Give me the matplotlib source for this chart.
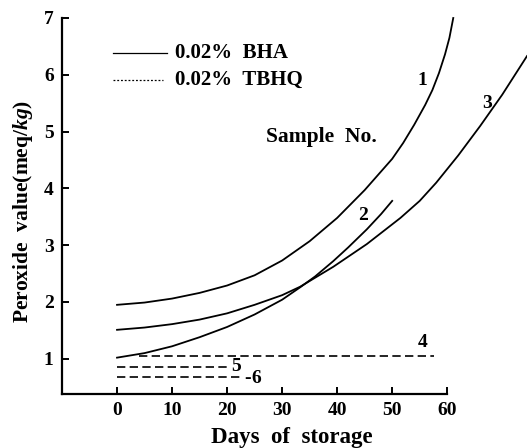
import matplotlib
matplotlib.use("Agg")
import matplotlib.pyplot as plt

plt.rcParams['font.family'] = ['Liberation Serif', 'DejaVu Serif']
plt.rcParams['font.weight'] = 'bold'
plt.rcParams['mathtext.fontset'] = 'custom'
plt.rcParams['mathtext.rm'] = 'Liberation Serif:bold'
plt.rcParams['mathtext.it'] = 'Liberation Serif:italic:bold'
plt.rcParams['mathtext.bf'] = 'Liberation Serif:bold'

# ---- data ----
days_s1 = [0, 5, 10, 15, 20, 25, 30, 35, 40, 45, 50, 52, 54, 56, 57.3, 58.5, 59.6, 60.4, 61.1]
pv_s1 = [1.95, 1.99, 2.06, 2.16, 2.29, 2.47, 2.73, 3.07, 3.48, 3.97, 4.52, 4.80, 5.12,
         5.47, 5.73, 6.03, 6.36, 6.65, 7.0]

days_s2 = [0, 5, 10, 15, 20, 25, 30, 33.3, 36, 39.3, 42, 45.4, 48, 50]
pv_s2 = [1.02, 1.10, 1.22, 1.38, 1.56, 1.78, 2.04, 2.26, 2.45, 2.72, 2.96, 3.28, 3.55, 3.78]

days_s3 = [0, 5, 10, 15, 20, 25, 30, 33.3, 39.3, 45.4, 51.5, 55, 58, 62, 66, 70, 74.5]
pv_s3 = [1.51, 1.55, 1.61, 1.69, 1.80, 1.95, 2.12, 2.27, 2.62, 3.02, 3.48, 3.78, 4.10,
         4.58, 5.10, 5.65, 6.33]

days_s4 = [4, 57.6]
pv_s4 = [1.05, 1.05]
days_s5 = [0, 20]
pv_s5 = [0.85, 0.85]
days_s6 = [0, 22.5]
pv_s6 = [0.68, 0.68]

sample_labels = ["1", "2", "3", "4", "5", "6"]
label_days = [55.5, 44.7, 67.3, 55.5, 21.7, 25.3]
label_pv = [5.9, 3.53, 5.5, 1.28, 0.86, 0.66]

x_ticks = [0, 10, 20, 30, 40, 50, 60]
y_ticks = [1, 2, 3, 4, 5, 6, 7]
legend_labels = ["0.02%  BHA", "0.02%  TBHQ"]

# ---- figure ----
W, H = 527, 448
fig = plt.figure(figsize=(W / 100, H / 100), dpi=100)
ax = fig.add_axes([62 / W, (H - 394) / H, (W - 62) / W, (394 - 18) / H])
ax.set_xlim(-10, 74.5)
ax.set_ylim(0.38, 7.0)

lw = 1.3
for d, v in [(days_s1, pv_s1), (days_s2, pv_s2), (days_s3, pv_s3)]:
    ax.plot(d, v, color='black', lw=lw, solid_joinstyle='round', clip_on=False)
for d, v in [(days_s4, pv_s4), (days_s5, pv_s5), (days_s6, pv_s6)]:
    ax.plot(d, v, color='black', lw=1.2, dashes=(5.0, 2.6), clip_on=False)

for lab, dx, vy in zip(sample_labels, label_days, label_pv):
    ax.text(dx, vy, lab, fontsize=14, fontweight='bold', ha='center', va='center')
ax.text(24.3, 0.66, "-", fontsize=14, fontweight='bold', ha='right', va='center')

# legend (manual)
ax.plot([0.110, 0.226], [0.907, 0.907], transform=ax.transAxes, color='black', lw=0.9)
ax.plot([0.110, 0.218], [0.835, 0.835], transform=ax.transAxes, color='black', lw=0.9,
        dashes=(1.5, 1.5))
ax.text(0.243, 0.907, legend_labels[0], transform=ax.transAxes, fontsize=15,
        fontweight='bold', va='center', ha='left')
ax.text(0.243, 0.835, legend_labels[1], transform=ax.transAxes, fontsize=15,
        fontweight='bold', va='center', ha='left')
ax.text(0.557, 0.683, "Sample  No.", transform=ax.transAxes, fontsize=15.5,
        fontweight='bold', va='center', ha='center')

# axes styling
for s in ['top', 'right']:
    ax.spines[s].set_visible(False)
ax.spines['left'].set_linewidth(1.6)
ax.spines['bottom'].set_linewidth(1.6)
ax.spines['bottom'].set_bounds(-10, 60)
ax.spines['left'].set_bounds(0.38, 7.0)
ax.set_xticks(x_ticks)
ax.set_yticks(y_ticks)
ax.tick_params(direction='in', length=5, width=1.4, labelsize=14, pad=6)
for t in ax.get_xticklabels() + ax.get_yticklabels():
    t.set_fontweight('bold')

fig.text(292 / W, 1 - 437 / H, "Days  of  storage", fontsize=16.5, fontweight='bold',
         ha='center', va='center')
fig.text(23 / W, 1 - 211 / H, r"Peroxide  value(meq/$kg$)", fontsize=15.5,
         fontweight='bold', rotation=90, ha='center', va='center')

fig.savefig("out.png", dpi=100)
